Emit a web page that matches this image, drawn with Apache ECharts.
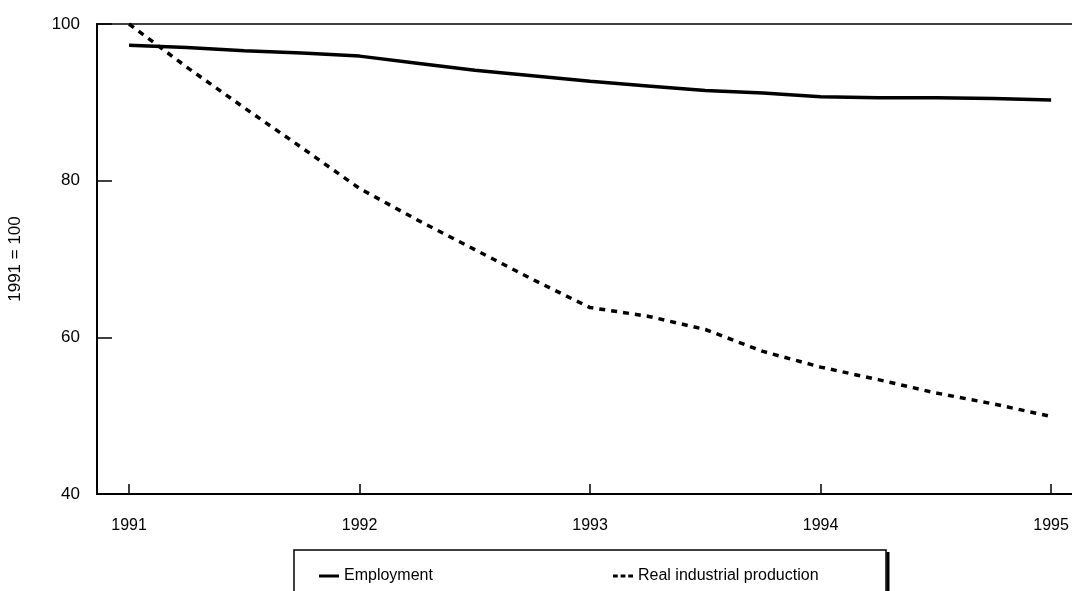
<!DOCTYPE html>
<html>
<head>
<meta charset="utf-8">
<script src="https://cdn.jsdelivr.net/npm/echarts@6/dist/echarts.min.js"></script>
<style>
  html, body { margin: 0; padding: 0; background: #fff; }
  #chart { width: 1072px; height: 591px; }
</style>
</head>
<body>
<div id="chart"></div>
<script>
// quarterly points, 1991 = 100
const years = [1991, 1991.25, 1991.5, 1991.75, 1992, 1992.25, 1992.5, 1992.75,
  1993, 1993.25, 1993.5, 1993.75, 1994, 1994.25, 1994.5, 1994.75, 1995];
const employment = [97.3, 97.0, 96.6, 96.3, 95.9, 95.0, 94.1, 93.4,
  92.7, 92.1, 91.5, 91.2, 90.7, 90.6, 90.6, 90.5, 90.3];
const production = [100, 94.5, 89.3, 84.2, 79.0, 75.0, 71.2, 67.4,
  63.8, 62.7, 61.0, 58.2, 56.2, 54.6, 52.9, 51.5, 49.9];
const yearTicks = [1991, 1992, 1993, 1994, 1995];
const seriesNames = ["Employment", "Real industrial production"];
const yName = "1991 = 100";

const font = "'Liberation Sans', Arial, sans-serif";
const chart = echarts.init(document.getElementById("chart"));

const legendText = { fontSize: 16, color: "#000", fontFamily: font };

chart.setOption({
  animation: false,
  textStyle: { fontFamily: font, color: "#000" },
  grid: {
    left: 97, top: 24, bottom: 97, right: -10,
    outerBoundsMode: "none",
    show: true, borderColor: "#000", borderWidth: 1.5
  },
  xAxis: {
    type: "value",
    min: 1990.861,
    max: 1995.134,
    axisLine: { onZero: false, lineStyle: { color: "#000", width: 2 } },
    axisTick: {
      inside: true, length: 10, customValues: yearTicks,
      lineStyle: { color: "#000", width: 1.5 }
    },
    axisLabel: {
      customValues: yearTicks, margin: 24,
      fontSize: 16, color: "#000", fontFamily: font,
      formatter: v => String(v)
    },
    splitLine: { show: false }
  },
  yAxis: {
    type: "value",
    min: 40, max: 100, interval: 20,
    name: yName,
    nameLocation: "middle",
    nameGap: 73,
    nameTextStyle: { fontSize: 17, color: "#000", fontFamily: font },
    axisLine: { show: true, lineStyle: { color: "#000", width: 2 } },
    axisTick: { inside: true, length: 15, lineStyle: { color: "#000", width: 1.5 } },
    axisLabel: { margin: 17, fontSize: 17, color: "#000", fontFamily: font },
    splitLine: { show: false }
  },
  legend: [
    {
      data: [{ name: seriesNames[0], icon: "rect" }],
      left: 314, top: 563,
      itemWidth: 20, itemHeight: 3, itemGap: 10,
      textStyle: legendText
    },
    {
      data: [{ name: seriesNames[1], icon: "path://M0,0h5v3h-5z M8,0h5v3h-5z M16,0h5v3h-5z" }],
      left: 608, top: 563,
      itemWidth: 20, itemHeight: 3, itemGap: 10,
      textStyle: legendText
    }
  ],
  graphic: [
    {
      type: "rect",
      shape: { x: 294, y: 550, width: 592, height: 60 },
      style: { fill: "none", stroke: "#000", lineWidth: 1.5 }
    },
    {
      type: "line",
      shape: { x1: 888, y1: 552, x2: 888, y2: 591 },
      style: { stroke: "#000", lineWidth: 3 }
    }
  ],
  series: [
    {
      name: seriesNames[0],
      type: "line",
      data: years.map((y, i) => [y, employment[i]]),
      showSymbol: false,
      symbol: "none",
      lineStyle: { color: "#000", width: 3.5 },
      itemStyle: { color: "#000" }
    },
    {
      name: seriesNames[1],
      type: "line",
      data: years.map((y, i) => [y, production[i]]),
      showSymbol: false,
      symbol: "none",
      lineStyle: { color: "#000", width: 3.5, type: [6, 6] },
      itemStyle: { color: "#000" }
    }
  ]
});
</script>
</body>
</html>
